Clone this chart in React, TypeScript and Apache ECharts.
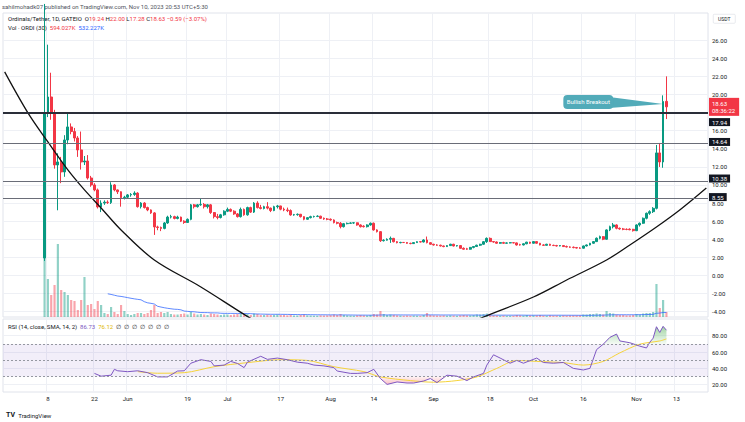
import React, { useEffect, useRef } from "react";
import * as echarts from "echarts";

// ---------- data ----------
const START_UTC = Date.UTC(2023, 3, 25); // first category: 2023-04-25
const DAY_COUNT = 212; // categories up to 2023-11-22
const FIRST_CANDLE_INDEX = 12; // 2023-05-07

// [open, close, low, high] per day from 2023-05-07 to 2023-11-10
const candles: number[][] = [
  [1.93, 17.96, 1.6, 30.0], [17.96, 19.72, 17.5, 25.5], [19.72, 17.96, 17.2, 22.4], [17.96, 12.21, 11.8, 18.3], [12.21, 12.54, 7.2, 13.5],
  [12.45, 11.44, 10.2, 13.1], [11.44, 14.97, 10.9, 15.5], [14.97, 16.41, 14.5, 17.96], [16.41, 15.9, 15.6, 16.8], [15.9, 15.19, 14.8, 16.3],
  [15.19, 13.87, 13.1, 15.4], [13.87, 12.54, 11.7, 15.9], [12.54, 12.65, 12.2, 13.2], [12.65, 10.77, 10.6, 13.3], [10.77, 10.0, 9.8, 11.0],
  [10.0, 9.45, 9.3, 10.2], [9.45, 7.57, 7.4, 9.6], [7.57, 8.0, 7.0, 8.3], [8.0, 8.1, 7.8, 8.3], [8.1, 8.05, 7.9, 8.3],
  [8.05, 10.0, 7.9, 10.3], [10.0, 9.45, 9.3, 10.1], [9.45, 9.25, 9.0, 9.5], [9.25, 8.6, 7.6, 9.3], [8.6, 8.65, 8.4, 8.8],
  [8.65, 8.9, 8.5, 9.0], [8.9, 8.95, 8.7, 9.1], [8.95, 9.1, 8.8, 9.3], [9.1, 7.6, 7.5, 9.2], [7.6, 8.0, 7.4, 8.1],
  [8.0, 7.5, 7.4, 8.1], [7.5, 7.24, 7.1, 7.6], [7.24, 6.91, 6.8, 7.3], [6.91, 5.36, 4.48, 7.0], [5.36, 5.3, 5.0, 5.5],
  [5.3, 5.2, 4.9, 5.4], [5.2, 5.8, 5.1, 5.9], [5.8, 6.45, 5.7, 6.6], [6.45, 6.5, 6.3, 6.7], [6.5, 6.3, 6.2, 6.6],
  [6.3, 6.45, 6.2, 6.6], [6.45, 6.0, 5.9, 6.5], [6.0, 5.85, 5.7, 6.1], [5.85, 6.2, 5.8, 6.3], [6.2, 7.8, 6.1, 7.9],
  [7.8, 7.6, 7.4, 7.9], [7.6, 7.8, 7.5, 7.9], [7.8, 7.85, 7.7, 8.5], [7.85, 7.6, 7.4, 8.0], [7.6, 7.8, 7.4, 7.9],
  [7.8, 6.95, 6.8, 7.9], [6.95, 6.5, 6.3, 7.0], [6.5, 6.4, 6.2, 6.8], [6.4, 6.7, 6.3, 6.8], [6.7, 7.1, 6.6, 7.2],
  [7.1, 7.3, 7.0, 7.5], [7.3, 7.1, 7.0, 7.4], [7.1, 6.8, 6.7, 7.2], [6.8, 6.5, 6.4, 6.9], [6.5, 7.3, 6.4, 7.5],
  [7.3, 6.7, 6.6, 7.4], [6.7, 7.5, 6.6, 7.6], [7.5, 7.0, 6.9, 7.6], [7.0, 8.0, 6.9, 8.1], [8.0, 7.5, 7.4, 8.2],
  [7.5, 7.4, 7.3, 7.8], [7.4, 7.6, 7.3, 7.7], [7.6, 7.44, 7.3, 8.1], [7.44, 7.17, 7.0, 7.5], [7.17, 7.6, 7.1, 7.7],
  [7.6, 7.68, 7.4, 7.8], [7.68, 7.32, 7.2, 7.7], [7.32, 7.24, 7.1, 7.5], [7.24, 7.17, 7.0, 7.5], [7.17, 6.69, 6.6, 7.3],
  [6.69, 6.72, 6.6, 6.8], [6.72, 6.76, 6.6, 6.85], [6.76, 6.5, 6.4, 6.8], [6.5, 6.21, 6.1, 6.55], [6.21, 6.39, 6.15, 6.45],
  [6.39, 6.5, 6.3, 6.6], [6.5, 6.52, 6.4, 6.6], [6.52, 6.55, 6.45, 6.65], [6.55, 6.32, 6.25, 6.6], [6.32, 6.24, 6.15, 6.4],
  [6.24, 6.21, 6.1, 6.35], [6.21, 6.13, 6.05, 6.3], [6.13, 5.84, 5.75, 6.2], [5.84, 5.77, 5.65, 5.95], [5.77, 5.39, 5.2, 5.9],
  [5.39, 5.72, 5.3, 5.8], [5.72, 5.76, 5.65, 5.85], [5.76, 5.8, 5.7, 5.88], [5.8, 5.82, 5.7, 5.9], [5.82, 5.58, 5.5, 5.85],
  [5.58, 5.39, 5.3, 5.65], [5.45, 5.39, 5.3, 5.55], [5.39, 5.58, 5.3, 5.65], [5.58, 5.77, 5.5, 5.85], [5.77, 5.03, 4.95, 5.85],
  [5.03, 4.84, 4.75, 5.1], [4.84, 3.84, 3.7, 4.9], [3.84, 3.9, 3.75, 4.0], [3.9, 4.0, 3.85, 4.1], [4.0, 4.1, 3.6, 4.3],
  [4.1, 3.73, 3.65, 4.15], [3.73, 3.62, 3.55, 3.8], [3.62, 3.65, 3.55, 3.72], [3.65, 3.64, 3.58, 3.7], [3.64, 3.55, 3.5, 3.7],
  [3.55, 3.52, 3.45, 3.62], [3.52, 3.63, 3.48, 3.68], [3.63, 3.73, 3.6, 3.78], [3.73, 3.7, 3.65, 3.78], [3.7, 3.92, 3.65, 4.0],
  [3.92, 3.62, 3.55, 4.3], [3.62, 3.45, 3.4, 3.68], [3.45, 3.37, 3.3, 3.5], [3.37, 3.34, 3.28, 3.45], [3.34, 3.26, 3.2, 3.4],
  [3.26, 3.19, 3.12, 3.3], [3.19, 3.3, 3.15, 3.35], [3.3, 3.45, 3.25, 3.5], [3.45, 3.26, 3.2, 3.5], [3.26, 3.3, 3.2, 3.35],
  [3.3, 3.0, 2.95, 3.35], [3.0, 2.9, 2.85, 3.1], [2.95, 2.9, 2.82, 3.05], [2.9, 3.1, 2.85, 3.15], [3.1, 3.2, 3.0, 3.25],
  [3.2, 3.34, 3.15, 3.4], [3.34, 3.45, 3.25, 3.5], [3.45, 3.73, 3.4, 3.8], [3.73, 4.1, 3.6, 4.2], [4.1, 3.74, 3.7, 4.2],
  [3.74, 3.7, 3.62, 3.8], [3.7, 3.56, 3.5, 3.76], [3.56, 3.63, 3.5, 3.7], [3.63, 3.56, 3.5, 3.72], [3.56, 3.6, 3.52, 3.66],
  [3.6, 3.62, 3.55, 3.68], [3.62, 3.6, 3.55, 3.68], [3.6, 3.37, 3.3, 3.65], [3.4, 3.37, 3.3, 3.5], [3.37, 3.5, 3.32, 3.55],
  [3.5, 3.68, 3.45, 3.72], [3.68, 3.56, 3.5, 3.72], [3.56, 3.74, 3.52, 3.78], [3.74, 3.56, 3.5, 3.78], [3.56, 3.37, 3.33, 3.6],
  [3.37, 3.33, 3.28, 3.45], [3.33, 3.45, 3.3, 3.5], [3.45, 3.33, 3.28, 3.5], [3.33, 3.3, 3.25, 3.4], [3.3, 3.26, 3.2, 3.38],
  [3.26, 3.3, 3.22, 3.36], [3.3, 3.19, 3.15, 3.35], [3.19, 3.15, 3.1, 3.3], [3.15, 3.12, 3.05, 3.22], [3.12, 3.08, 3.0, 3.2],
  [3.08, 3.03, 2.98, 3.15], [3.03, 3.01, 2.95, 3.12], [3.01, 3.26, 2.98, 3.3], [3.26, 3.37, 3.2, 3.42], [3.37, 3.56, 3.32, 3.6],
  [3.56, 3.74, 3.5, 3.8], [3.74, 4.11, 3.7, 4.2], [4.11, 4.29, 4.0, 4.4], [4.29, 4.0, 3.9, 4.35], [4.0, 5.03, 3.95, 5.1],
  [5.03, 5.39, 4.9, 5.5], [5.39, 5.58, 5.2, 5.8], [5.58, 5.21, 5.1, 5.65], [5.21, 5.14, 5.05, 5.3], [5.14, 5.1, 5.0, 5.25],
  [5.1, 5.08, 5.0, 5.2], [5.12, 5.05, 5.0, 5.2], [5.1, 4.95, 4.85, 5.15], [4.95, 5.58, 4.9, 5.65], [5.58, 5.77, 5.4, 5.85],
  [5.77, 6.32, 5.7, 6.4], [6.32, 6.87, 6.2, 6.95], [6.87, 7.05, 6.7, 7.2], [7.05, 7.42, 6.9, 7.55], [7.42, 13.54, 7.3, 14.42],
  [13.54, 12.54, 11.99, 14.64], [12.54, 19.22, 11.9, 19.9], [19.24, 18.63, 17.28, 22.0],
];

// volume in thousands of ORDI, same days as candles
const volumesK: number[] = [
  7200, 4560, 2640, 3840, 8760, 3240, 3000, 2640, 2040, 1920,
  840, 2040, 4800, 1440, 1560, 960, 1920, 1440, 480, 360,
  1200, 600, 360, 1440, 720, 360, 240, 360, 480, 480,
  360, 480, 840, 1440, 480, 600, 480, 600, 360, 300,
  300, 360, 420, 300, 600, 420, 300, 360, 300, 240,
  420, 360, 300, 240, 300, 300, 240, 300, 360, 420,
  300, 360, 240, 420, 360, 240, 240, 300, 240, 240,
  300, 240, 240, 200, 300, 180, 180, 240, 300, 200,
  180, 160, 160, 200, 180, 200, 220, 300, 240, 360,
  240, 200, 180, 160, 200, 240, 200, 180, 240, 360,
  300, 720, 360, 240, 300, 260, 200, 180, 160, 180,
  160, 180, 160, 150, 240, 480, 240, 200, 180, 180,
  200, 160, 200, 180, 150, 200, 240, 200, 200, 240,
  300, 300, 360, 420, 240, 200, 180, 160, 180, 150,
  150, 160, 240, 200, 180, 240, 180, 200, 200, 240,
  180, 160, 200, 180, 180, 160, 200, 180, 180, 200,
  200, 180, 300, 300, 360, 360, 420, 360, 300, 720,
  480, 420, 300, 240, 240, 200, 200, 240, 360, 300,
  420, 480, 480, 600, 3960, 1080, 2040, 594,
];
const VOLUME_MA_LENGTH = 30;
const VOLUME_MA_FIRST_DAY = 19;

// RSI(14): [category index, value]
const rsiPoints: number[][] = [
  [27, 33.8], [29, 30.4], [32, 31.6], [33, 38.8], [34, 37], [37, 35.9], [40, 37], [43, 34.7], [46, 29.5], [49, 29.5],
  [52, 36.7], [54, 37], [56, 46.3], [59, 50.6], [62, 48.5], [63, 43], [66, 44], [68, 48.5], [70, 46], [72, 40.9],
  [73, 47.6], [77, 54.8], [79, 51], [82, 52.6], [85, 50.6], [88, 47.6], [91, 46.3], [93, 44], [96, 43], [99, 40.9],
  [100, 36.7], [104, 33.8], [106, 33.8], [109, 34.7], [111, 38.8], [113, 27.5], [115, 20.3], [118, 23.3], [121, 22], [123, 22],
  [126, 24.5], [128, 27.5], [130, 22.5], [133, 31.6], [136, 30.4], [139, 25], [141, 29.5], [144, 33.8], [145, 44], [147, 56.6],
  [149, 52.6], [152, 46.3], [154, 49.7], [156, 46.3], [160, 52.6], [162, 47.2], [165, 46.3], [168, 47.2], [171, 40], [174, 38],
  [176, 40], [178, 63], [180, 69.6], [182, 78], [184, 82], [185, 73.6], [188, 71.4], [191, 67.2], [193, 65], [194, 72],
  [195, 77], [196, 91], [197, 84], [198, 91.5], [199, 86.73],
];
const rsiSmaPoints: number[][] = [
  [40, 36], [46, 34], [54, 34.7], [63, 42], [73, 47], [83, 50.6], [91, 49.7], [99, 42], [108, 36], [113, 29.5],
  [122, 25], [129, 23], [136, 25], [142, 29.5], [148, 40], [154, 49.7], [160, 48.5], [168, 47], [174, 44], [180, 48.5],
  [185, 59], [191, 69.6], [197, 73.6], [199, 76.12],
];
const RSI_UPPER = 70;
const RSI_MIDDLE = 50;
const RSI_LOWER = 30;

// drawn levels and the hand-drawn rounding-bottom curve: [category index, price]
const levelLines = [17.94, 14.64, 10.38, 8.55];
const levelLabelShift = [9, -1, -3, -1]; // vertical nudge of each level tag (px), as the tags sit in the reference
const lastPrice = 18.63;
const countdown = "08:36:22";
const curveLeft: number[][] = [
  [0, 22.49], [7, 17.96], [13, 14.75], [19, 11.66], [24, 9.45], [29, 7.46], [35, 5.03], [45, 1.71], [59, -1.27], [72, -4.3], [78, -5.6],
];
const curveRight: number[][] = [
  [138, -5.6], [144, -4.59], [159, -2.38], [169, -0.5], [181, 1.71], [188, 3.37], [196, 5.36], [203, 7.24], [211, 9.67],
];
// callout "Bullish Breakout": box corners and tip, in [category index, price]
const calloutText = "Bullish Breakout";
const calloutBox = { left: 168, right: 183, top: 19.94, bottom: 18.4 };
const calloutTip = [198, 18.95];

const priceTicks = [-4, -2, 0, 2, 4, 6, 8, 10, 12, 14, 16, 18, 20, 22, 24, 26];
const priceTickLabels = [-4, -2, 0, 2, 4, 6, 8, 10, 12, 14, 16, 20, 22, 24, 26]; // 18.00 sits under the price tag
const rsiTicks = [20, 40, 60, 80];
const xTickDates = [
  "2023-05-08", "2023-05-22", "2023-06-01", "2023-06-19", "2023-07-01", "2023-07-17", "2023-08-01",
  "2023-08-14", "2023-09-01", "2023-09-18", "2023-10-01", "2023-10-16", "2023-11-01", "2023-11-13",
];
const MONTHS = ["Jan", "Feb", "Mar", "Apr", "May", "Jun", "Jul", "Aug", "Sep", "Oct", "Nov", "Dec"];

// ---------- styles ----------
const FONT = "Roboto, 'Liberation Sans', Arial, sans-serif";
const UP = "#089981";
const DOWN = "#f23645";
const UP_VOL = "rgba(8,153,129,0.45)";
const DOWN_VOL = "rgba(242,54,69,0.45)";
const GRID_LINE = "#eef0f5";
const TEXT = "#131722";

function buildDates(): string[] {
  const out: string[] = [];
  for (let i = 0; i < DAY_COUNT; i++) {
    out.push(new Date(START_UTC + i * 86400000).toISOString().slice(0, 10));
  }
  return out;
}

export default function App() {
  const ref = useRef<HTMLDivElement>(null);

  useEffect(() => {
    const el = ref.current;
    if (!el) return;
    const chart = echarts.init(el, undefined, { renderer: "svg" });
    const dates = buildDates();
    const tickSet = new Set(xTickDates);
    const isTick = (_i: number, v: string) => tickSet.has(v);
    const fmtDate = (v: string) => {
      const m = Number(v.slice(5, 7));
      const d = Number(v.slice(8, 10));
      return d === 1 ? MONTHS[m - 1] : String(d);
    };

    const candleData: any[] = dates.map(() => ["-", "-", "-", "-"]);
    const volumeData: any[] = dates.map(() => "-");
    candles.forEach((c, d) => {
      candleData[d + FIRST_CANDLE_INDEX] = c;
      volumeData[d + FIRST_CANDLE_INDEX] = {
        value: volumesK[d],
        itemStyle: { color: c[1] >= c[0] ? UP_VOL : DOWN_VOL },
      };
    });
    const volumeMa: number[][] = [];
    for (let d = VOLUME_MA_FIRST_DAY; d < volumesK.length; d++) {
      const from = Math.max(0, d - VOLUME_MA_LENGTH + 1);
      let s = 0;
      for (let k = from; k <= d; k++) s += volumesK[k];
      volumeMa.push([d + FIRST_CANDLE_INDEX, s / (d - from + 1)]);
    }

    const levelMarks: any[] = levelLines.map((v, k) => ({
      yAxis: v,
      lineStyle: { color: k === 0 ? "#2a2e39" : "#6a6d78", width: k === 0 ? 2 : 1, type: "solid" },
      label: { formatter: v.toFixed(2), offset: [0, levelLabelShift[k]] },
    }));
    levelMarks.push({
      yAxis: lastPrice,
      lineStyle: { color: "rgba(0,0,0,0)", width: 0 },
      label: {
        show: true,
        formatter: `${lastPrice.toFixed(2)}\n${countdown}`,
        backgroundColor: DOWN,
        color: "#ffffff",
        lineHeight: 7,
        padding: [2, 4, 2, 3],
      },
    });

    const xAxisBase = {
      type: "category",
      data: dates,
      boundaryGap: true,
      axisTick: { show: false },
      splitLine: { show: true, interval: isTick, lineStyle: { color: GRID_LINE, width: 1 } },
    };

    const option: any = {
      animation: false,
      backgroundColor: "#ffffff",
      textStyle: { fontFamily: FONT },
      grid: [
        { left: 3, right: 37, top: 13, height: 304, show: true, borderColor: "#e0e3eb", borderWidth: 1 },
        { left: 3, right: 37, top: 319, height: 73, show: true, borderColor: "#e0e3eb", borderWidth: 1 },
      ],
      xAxis: [
        { ...xAxisBase, gridIndex: 0, axisLine: { show: false }, axisLabel: { show: false } },
        {
          ...xAxisBase,
          gridIndex: 1,
          axisLine: { show: false },
          axisLabel: {
            show: true, interval: isTick, formatter: fmtDate, color: TEXT,
            fontSize: 6, fontFamily: FONT, margin: 3,
          },
        },
      ],
      yAxis: [
        {
          type: "value", gridIndex: 0, position: "right", min: -4.59, max: 29.0, scale: true,
          axisLine: { show: false },
          axisTick: { show: false, customValues: priceTicks },
          axisLabel: {
            customValues: priceTickLabels, formatter: (v: number) => v.toFixed(2),
            color: TEXT, fontSize: 6, fontFamily: FONT, margin: 4,
          },
          splitLine: { show: true, lineStyle: { color: GRID_LINE } },
        },
        {
          type: "value", gridIndex: 0, min: 0, max: 36480, show: false,
          splitLine: { show: false },
        },
        {
          type: "value", gridIndex: 1, position: "right", min: 11, max: 100.5,
          axisLine: { show: false },
          axisTick: { show: false, customValues: rsiTicks },
          axisLabel: {
            customValues: rsiTicks, formatter: (v: number) => v.toFixed(2),
            color: TEXT, fontSize: 6, fontFamily: FONT, margin: 4,
          },
          splitLine: { show: true, lineStyle: { color: GRID_LINE } },
        },
      ],
      series: [
        {
          name: "Volume", type: "bar", xAxisIndex: 0, yAxisIndex: 1,
          data: volumeData, barWidth: "65%", z: 1, silent: true,
        },
        {
          name: "Volume MA", type: "line", xAxisIndex: 0, yAxisIndex: 1,
          data: volumeMa, showSymbol: false, symbol: "none", z: 2,
          lineStyle: { color: "#2962ff", width: 1, opacity: 0.75 },
        },
        {
          name: "ORDI/USDT", type: "candlestick", xAxisIndex: 0, yAxisIndex: 0,
          data: candleData, barWidth: "68%", z: 3,
          itemStyle: { color: UP, color0: DOWN, borderColor: UP, borderColor0: DOWN, borderWidth: 1 },
          markLine: {
            symbol: ["none", "none"], silent: true, animation: false, z: 6,
            label: {
              show: true, position: "end", distance: 1, color: "#ffffff",
              backgroundColor: TEXT, padding: [1, 3, 0, 3], lineHeight: 7, fontSize: 6, fontFamily: FONT,
            },
            data: levelMarks,
          },
        },
        {
          name: "curveLeft", type: "line", xAxisIndex: 0, yAxisIndex: 0, data: curveLeft,
          smooth: 0.35, symbol: "none", z: 4, clip: true,
          lineStyle: { color: "#111111", width: 1.3 },
        },
        {
          name: "curveRight", type: "line", xAxisIndex: 0, yAxisIndex: 0, data: curveRight,
          smooth: 0.35, symbol: "none", z: 4, clip: true,
          lineStyle: { color: "#111111", width: 1.3 },
        },
        {
          name: "RSI overbought fill", type: "line", xAxisIndex: 1, yAxisIndex: 2,
          data: rsiPoints.map((p) => [p[0], Math.max(p[1], RSI_UPPER)]),
          symbol: "none", lineStyle: { width: 0 }, z: 1,
          areaStyle: {
            origin: RSI_UPPER,
            color: new echarts.graphic.LinearGradient(0, 0, 0, 1, [
              { offset: 0, color: "rgba(76,175,80,0.75)" },
              { offset: 1, color: "rgba(76,175,80,0.08)" },
            ]),
          },
        },
        {
          name: "RSI oversold fill", type: "line", xAxisIndex: 1, yAxisIndex: 2,
          data: rsiPoints.map((p) => [p[0], Math.min(p[1], RSI_LOWER)]),
          symbol: "none", lineStyle: { width: 0 }, z: 1,
          areaStyle: {
            origin: RSI_LOWER,
            color: new echarts.graphic.LinearGradient(0, 0, 0, 1, [
              { offset: 0, color: "rgba(242,54,69,0.08)" },
              { offset: 1, color: "rgba(242,54,69,0.45)" },
            ]),
          },
        },
        {
          name: "RSI-based MA", type: "line", xAxisIndex: 1, yAxisIndex: 2, data: rsiSmaPoints,
          symbol: "none", smooth: 0.3, z: 3, lineStyle: { color: "#f5d33a", width: 1 },
        },
        {
          name: "RSI", type: "line", xAxisIndex: 1, yAxisIndex: 2, data: rsiPoints,
          symbol: "none", z: 4, lineStyle: { color: "#7e57c2", width: 1 },
          markArea: {
            silent: true,
            itemStyle: { color: "rgba(126,87,194,0.1)" },
            data: [[{ yAxis: RSI_LOWER }, { yAxis: RSI_UPPER }]],
          },
          markLine: {
            silent: true, symbol: ["none", "none"], label: { show: false },
            lineStyle: { color: "#9598a1", type: [2, 2], width: 1 },
            data: [{ yAxis: RSI_UPPER }, { yAxis: RSI_MIDDLE }, { yAxis: RSI_LOWER }],
          },
        },
      ],
    };

    chart.setOption(option);

    const px = (i: number, v: number) =>
      chart.convertToPixel({ xAxisIndex: 0, yAxisIndex: 0 } as any, [i, v]) as number[];
    const tl = px(calloutBox.left, calloutBox.top);
    const br = px(calloutBox.right, calloutBox.bottom);
    const tip = px(calloutTip[0], calloutTip[1]);
    const boxH = br[1] - tl[1];
    const calloutColor = "#52abb9";

    const small = { fontSize: 6, fontFamily: FONT };
    chart.setOption({
      graphic: [
        {
          type: "text", left: 2, top: 3,
          style: { text: "sahilmohadk07 published on TradingView.com, Nov 10, 2023 20:53 UTC+5:30", fill: "#50535e", ...small },
        },
        {
          type: "text", left: 8, top: 15,
          style: {
            text: "{d|Ordinals/Tether, 1D, GATEIO}  {d|O}{r|19.24} {d|H}{r|22.00} {d|L}{r|17.28} {d|C}{r|18.63} {r|−0.59 (−3.07%)}",
            ...small,
            rich: { d: { fill: TEXT, ...small }, r: { fill: DOWN, ...small } },
          },
        },
        {
          type: "text", left: 8, top: 24,
          style: {
            text: "{d|Vol · ORDI (30)}  {r|594.027K}  {b|532.227K}",
            ...small,
            rich: { d: { fill: TEXT, ...small }, r: { fill: DOWN, ...small }, b: { fill: "#2962ff", ...small } },
          },
        },
        {
          type: "text", left: 8, top: 323,
          style: {
            text: "{d|RSI (14, close, SMA, 14, 2)}  {p|86.73}  {y|76.12}  {d|∅  ∅  ∅  ∅  ∅  ∅  ∅}",
            ...small,
            rich: { d: { fill: TEXT, ...small }, p: { fill: "#7e57c2", ...small }, y: { fill: "#e0b800", ...small } },
          },
        },
        {
          type: "group", left: 713, top: 14,
          children: [
            { type: "rect", shape: { x: 0, y: 0, width: 22, height: 9, r: 1 }, style: { fill: "#fff", stroke: "#d1d4dc", lineWidth: 0.5 } },
            { type: "text", x: 11, y: 4.5, style: { text: "USDT", fill: TEXT, align: "center", verticalAlign: "middle", ...small, fontSize: 5 } },
          ],
        },
        {
          type: "text", left: 6, top: 409,
          style: {
            text: "{l|TV} {d|TradingView}",
            rich: {
              l: { fill: TEXT, fontSize: 7, fontWeight: "bold", fontFamily: FONT },
              d: { fill: TEXT, fontSize: 6, fontFamily: FONT },
            },
          },
        },
        {
          type: "polygon", z: 10,
          shape: { points: [[br[0] - 4, tl[1] + 2], [tip[0], tip[1]], [br[0] - 4, br[1] - 1]] },
          style: { fill: calloutColor },
        },
        {
          type: "rect", z: 11,
          shape: { x: tl[0], y: tl[1], width: br[0] - tl[0], height: boxH, r: 4 },
          style: { fill: calloutColor },
        },
        {
          type: "text", z: 12, x: (tl[0] + br[0]) / 2, y: tl[1] + boxH / 2,
          style: { text: calloutText, fill: "#ffffff", align: "center", verticalAlign: "middle", ...small },
        },
      ],
    });

    return () => chart.dispose();
  }, []);

  return (
    <div
      ref={ref}
      style={{ position: "fixed", left: 0, top: 0, width: 745, height: 422, background: "#ffffff" }}
    />
  );
}
